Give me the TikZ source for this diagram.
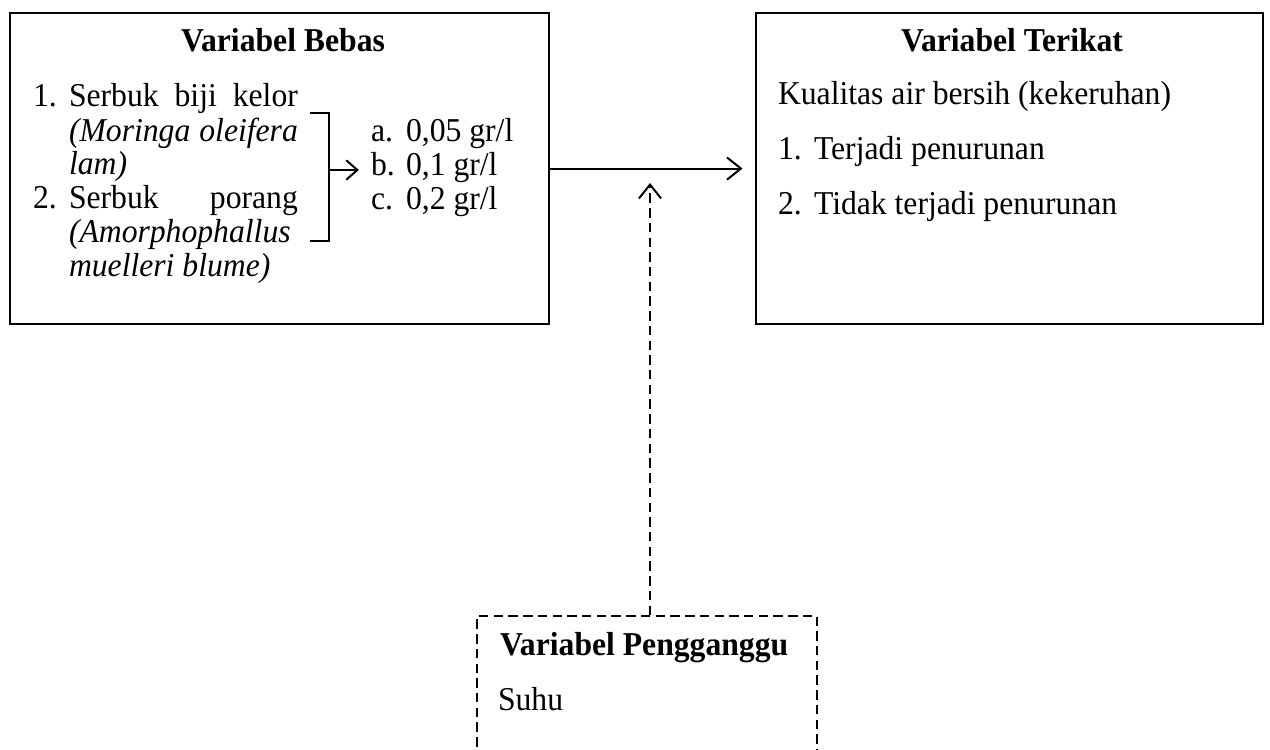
\documentclass[tikz,border=0pt]{standalone}
\usepackage{fontspec}
\setmainfont{Liberation Serif}[FakeStretch=0.95]
\usetikzlibrary{arrows.meta,positioning}

\begin{document}
\begin{tikzpicture}[
    x = 0.36pt, y = -0.36pt, % one unit = one pixel, y going down
    > = {Straight Barb[length=5pt,width=8pt]}, % open arrow head
    line width = 0.72pt, % line style
    font = \fontsize{12}{12.2}\selectfont
  ]

  \tikzset{kotak/.style={
      draw = black,
      rectangle,
      inner sep = 0pt,
      minimum height = 112pt,
      anchor = north west
    }}
  \tikzset{judul/.style={font=\fontsize{12}{12.2}\selectfont\bfseries, inner sep=0pt, anchor=base}}
  \tikzset{teks/.style={inner sep=0pt, anchor=base west}}
  \tikzset{putus/.style={dash pattern=on 3.4pt off 1.9pt}}

  \useasboundingbox (0,0) rectangle (1270,750);

  % the three boxes
  \node[kotak, minimum width=194pt] (bebas) at (9,12) {};
  \node[kotak, minimum width=182.5pt] (terikat) at (755,12) {};
  \node[kotak, putus, minimum width=122.4pt, minimum height=72pt] (ganggu) at (476,615) {};

  % variabel bebas
  \node[judul] (judul bebas) at (283,52) {Variabel Bebas};
  \node[teks] (n1) at (32,107) {1.};
  \node[teks] (s1) at (68,107) {\makebox[82.4pt][s]{Serbuk biji kelor}};
  \node[teks] (s2) at (68,142) {\makebox[82.4pt][s]{\itshape (Moringa oleifera}};
  \node[teks] (s3) at (68,175) {\itshape lam)};
  \node[teks] (n2) at (32,209) {2.};
  \node[teks] (s4) at (68,209) {\makebox[82.4pt][s]{Serbuk porang}};
  \node[teks] (s5) at (68,243) {\itshape (Amorphophallus};
  \node[teks] (s6) at (68,277) {\itshape muelleri blume)};

  \node[teks] (a) at (370,142) {a.};
  \node[teks] (dosis a) at (405,142) {0,05 gr/l};
  \node[teks] (b) at (370,176) {b.};
  \node[teks] (dosis b) at (405,176) {0,1 gr/l};
  \node[teks] (c) at (370,210) {c.};
  \node[teks] (dosis c) at (405,210) {0,2 gr/l};

  % bracket joining both powders
  \coordinate (kurung atas) at (310,113);
  \coordinate (kurung bawah) at (310,241);
  \coordinate (kurung) at (329,170);
  \draw (kurung atas) -| (kurung |- kurung bawah) -- (kurung bawah);
  \draw[->, > = {Straight Barb[length=4pt,width=7pt]}, shorten > = 4pt] (kurung) -- (kurung -| b.west);

  % variabel terikat
  \node[judul] (judul terikat) at (1012,52) {Variabel Terikat};
  \node[teks] (kualitas) at (777,105) {Kualitas air bersih (kekeruhan)};
  \node[teks] (m1) at (777,160) {1.};
  \node[teks] (t1) at (813,160) {Terjadi penurunan};
  \node[teks] (m2) at (777,215) {2.};
  \node[teks] (t2) at (813,215) {Tidak terjadi penurunan};

  % variabel pengganggu
  \node[teks, font=\fontsize{12}{12.2}\selectfont\bfseries] (judul ganggu) at (499,655) {Variabel Pengganggu};
  \node[teks] (suhu) at (497,710) {Suhu};

  % connectors
  \coordinate (ujung) at (650,183);
  \draw[->, shorten > = 4.5pt] (bebas.east) -- (terikat.west);
  \draw[->, putus] (ujung |- ganggu.north) -- (ujung);
\end{tikzpicture}
\end{document}
